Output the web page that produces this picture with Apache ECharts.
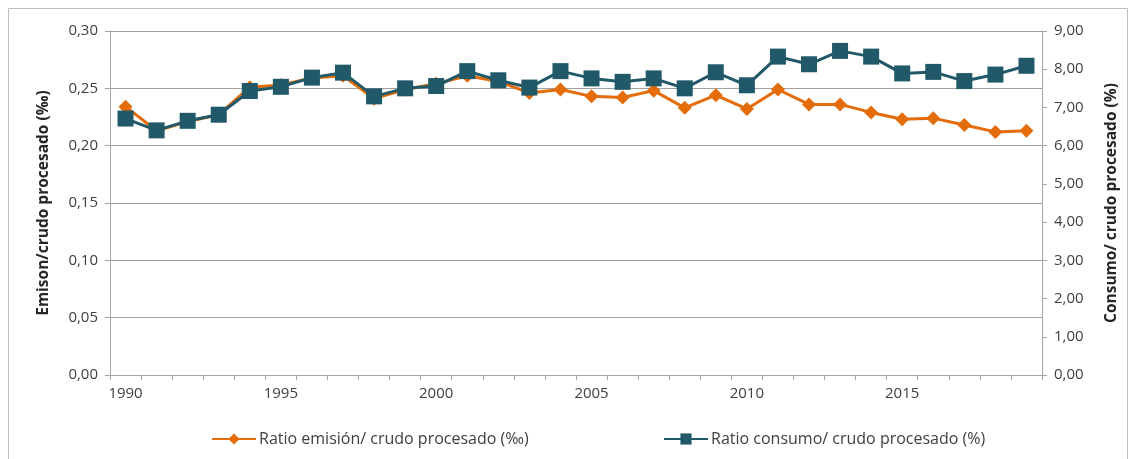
<!DOCTYPE html>
<html><head><meta charset="utf-8">
<script src="https://cdn.jsdelivr.net/npm/echarts@6/dist/echarts.min.js"></script>
<style>html,body{margin:0;padding:0;background:#fff}#c{width:1131px;height:459px}</style>
</head><body><div id="c"></div>
<script>
const years = ['1990','1991','1992','1993','1994','1995','1996','1997','1998','1999','2000','2001','2002','2003','2004','2005','2006','2007','2008','2009','2010','2011','2012','2013','2014','2015','2016','2017','2018','2019'];
const emisionRatio = [0.234,0.213,0.221,0.227,0.251,0.253,0.259,0.261,0.241,0.249,0.254,0.261,0.256,0.246,0.249,0.243,0.242,0.248,0.233,0.244,0.232,0.249,0.236,0.236,0.229,0.223,0.224,0.218,0.212,0.213];
const consumoRatio = [6.71,6.40,6.65,6.81,7.43,7.54,7.78,7.91,7.29,7.50,7.56,7.95,7.71,7.52,7.95,7.76,7.67,7.76,7.50,7.92,7.58,8.33,8.13,8.48,8.33,7.89,7.93,7.69,7.86,8.09];
const leftName = 'Emison/crudo procesado (‰)';
const rightName = 'Consumo/ crudo procesado (%)';
const emisionName = 'Ratio emisión/ crudo procesado (‰)';
const consumoName = 'Ratio consumo/ crudo procesado (%)';

const FONT = 'Open Sans';
const fmt = v => v.toFixed(2).replace('.', ',');
const orange = '#E46C0A';
const teal = '#215968';
const chart = echarts.init(document.getElementById('c'));
const legendText = {fontFamily: FONT, fontSize: 16, color: '#404040', padding: [0, 0, 0, -2]};
chart.setOption({
  animation: false,
  textStyle: {fontFamily: FONT},
  graphic: [{type: 'rect', shape: {x: 8.5, y: 8.5, width: 1119, height: 460}, style: {fill: 'none', stroke: '#BFBFBF', lineWidth: 1}, silent: true}],
  grid: {left: 110, right: 89, top: 31, bottom: 84},
  legend: [
    {data: [emisionName], left: 206, top: 426, itemWidth: 44, itemHeight: 14, textStyle: legendText},
    {data: [consumoName], left: 658, top: 426, itemWidth: 44, itemHeight: 14, textStyle: legendText}
  ],
  xAxis: {
    type: 'category', data: years, boundaryGap: true,
    axisLine: {lineStyle: {color: '#A6A6A6'}},
    axisTick: {show: true, interval: 0, length: 5, lineStyle: {color: '#A6A6A6'}},
    axisLabel: {interval: 4, color: '#404040', fontSize: 15, fontFamily: FONT, margin: 11}
  },
  yAxis: [
    {
      type: 'value', min: 0, max: 0.30, interval: 0.05, position: 'left',
      name: leftName, nameLocation: 'middle', nameGap: 58, nameRotate: 90,
      nameTextStyle: {fontWeight: 'bold', fontSize: 15.5, color: '#262626', fontFamily: FONT},
      axisLine: {show: true, lineStyle: {color: '#A6A6A6'}},
      axisTick: {show: true, length: 5, lineStyle: {color: '#A6A6A6'}},
      axisLabel: {formatter: fmt, color: '#404040', fontSize: 15, fontFamily: FONT, margin: 12},
      splitLine: {show: true, lineStyle: {color: '#A0A0A0', width: 1}}
    },
    {
      type: 'value', min: 0, max: 9, interval: 1, position: 'right',
      name: rightName, nameLocation: 'middle', nameGap: 62, nameRotate: 90,
      nameTextStyle: {fontWeight: 'bold', fontSize: 15.5, color: '#262626', fontFamily: FONT},
      axisLine: {show: true, lineStyle: {color: '#A6A6A6'}},
      axisTick: {show: true, length: 5, lineStyle: {color: '#A6A6A6'}},
      axisLabel: {formatter: fmt, color: '#404040', fontSize: 15, fontFamily: FONT, margin: 12},
      splitLine: {show: false}
    }
  ],
  series: [
    {
      name: emisionName, type: 'line', yAxisIndex: 0, data: emisionRatio,
      symbol: 'diamond', symbolSize: 14, showAllSymbol: true,
      lineStyle: {color: orange, width: 3}, itemStyle: {color: orange}, z: 2
    },
    {
      name: consumoName, type: 'line', yAxisIndex: 1, data: consumoRatio,
      symbol: 'rect', symbolSize: 16, showAllSymbol: true,
      lineStyle: {color: teal, width: 3}, itemStyle: {color: teal}, z: 3
    }
  ]
});
</script></body></html>
